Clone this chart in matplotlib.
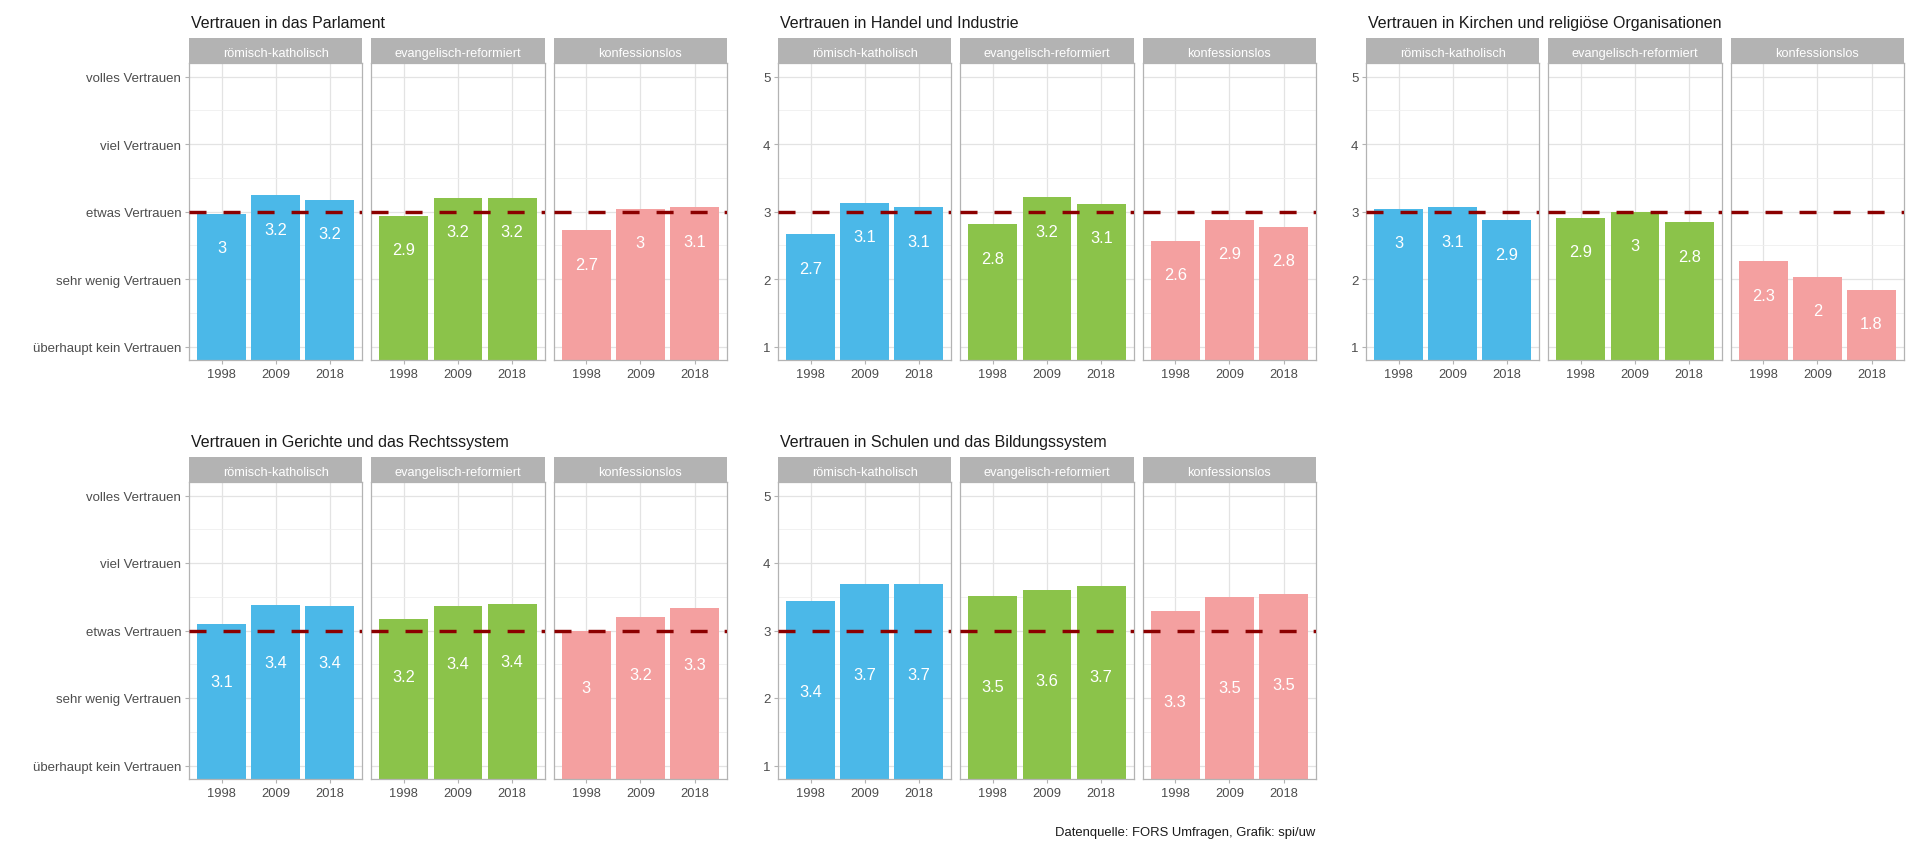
import matplotlib
matplotlib.use("Agg")
import matplotlib.pyplot as plt

plt.rcParams['font.family'] = ['Liberation Sans', 'DejaVu Sans']

# ---------------- data ----------------
years = ["1998", "2009", "2018"]
groups = ["römisch-katholisch", "evangelisch-reformiert", "konfessionslos"]
titles = [
    "Vertrauen in das Parlament",
    "Vertrauen in Handel und Industrie",
    "Vertrauen in Kirchen und religiöse Organisationen",
    "Vertrauen in Gerichte und das Rechtssystem",
    "Vertrauen in Schulen und das Bildungssystem",
]
# values per group: [römisch-katholisch, evangelisch-reformiert, konfessionslos] x years
parlament = [[2.96, 3.24, 3.17], [2.93, 3.20, 3.20], [2.72, 3.04, 3.06]]
handel = [[2.66, 3.13, 3.06], [2.81, 3.21, 3.11], [2.56, 2.88, 2.77]]
kirchen = [[3.04, 3.06, 2.87], [2.91, 2.99, 2.84], [2.26, 2.03, 1.84]]
gerichte = [[3.10, 3.38, 3.37], [3.17, 3.36, 3.39], [3.00, 3.20, 3.34]]
schulen = [[3.44, 3.69, 3.69], [3.51, 3.60, 3.66], [3.29, 3.50, 3.54]]
datasets = [parlament, handel, kirchen, gerichte, schulen]

scale_ticks = [1, 2, 3, 4, 5]
scale_labels = ["überhaupt kein Vertrauen", "sehr wenig Vertrauen", "etwas Vertrauen",
                "viel Vertrauen", "volles Vertrauen"]
reference_value = 3
caption = "Datenquelle: FORS Umfragen, Grafik: spi/uw"

# ---------------- style / layout ----------------
colors = ["#4BB8E8", "#8BC34A", "#F4A0A0"]
label_offsets = [0.5, 0.5, 0.5, 0.85, 1.34]
use_text_labels = [True, False, False, True, False]
group_left = [189, 778, 1366, 189, 778]
strip_top = [39, 39, 39, 458, 458]
title_base = [28, 28, 28, 447, 447]
GROUP_W = 538
GAP = 9
STRIP_H = 25
PANEL_H = 297

W, H = 1920, 854
fig = plt.figure(figsize=(W / 100, H / 100), dpi=100)


def add_ax(x0, y0, x1, y1):
    return fig.add_axes([x0 / W, 1 - y1 / H, (x1 - x0) / W, (y1 - y0) / H])


def fmt(v):
    return f"{round(v, 1):g}"


grey70 = "#B3B3B3"
grid_c = "#E3E3E3"
tick_c = "#4D4D4D"

for k, data in enumerate(datasets):
    gl = group_left[k]
    st = strip_top[k]
    pt = st + STRIP_H
    pb = pt + PANEL_H
    fw = (GROUP_W - 2 * GAP) / 3
    fig.text((gl + 2) / W, 1 - title_base[k] / H, titles[k], ha="left", va="baseline",
             fontsize=11.5, color="#1A1A1A")
    for g in range(3):
        x0 = gl + g * (fw + GAP)
        x1 = x0 + fw
        # strip
        sax = add_ax(x0, st, x1, pt)
        sax.set_facecolor(grey70)
        sax.set_xticks([]); sax.set_yticks([])
        for s in sax.spines.values():
            s.set_visible(False)
        sax.text(0.5, 0.47, groups[g], transform=sax.transAxes, ha="center",
                 va="center_baseline", color="white", fontsize=9.2)
        # panel
        ax = add_ax(x0, pt, x1, pb)
        vals = data[g]
        xs = list(range(len(years)))
        ax.bar(xs, vals, width=0.9, color=colors[g], zorder=2)
        ax.axhline(reference_value, color="#8B0000", lw=2.45, dashes=(5, 5), zorder=3)
        for xi, v in zip(xs, vals):
            ax.text(xi, v - label_offsets[k], fmt(v), ha="center", va="center",
                    color="white", fontsize=11.8, zorder=4)
        ax.set_xlim(-0.6, 2.6)
        ax.set_ylim(0.8, 5.2)
        ax.set_xticks(xs)
        ax.set_xticklabels(years)
        ax.set_yticks(scale_ticks)
        ax.set_yticks([1.5, 2.5, 3.5, 4.5], minor=True)
        if use_text_labels[k]:
            ax.set_yticklabels(scale_labels)
        else:
            ax.set_yticklabels([str(t) for t in scale_ticks])
        ax.grid(True, which="major", color=grid_c, lw=0.9, zorder=0)
        ax.grid(True, which="minor", axis="y", color="#EFEFEF", lw=0.6, zorder=0)
        ax.set_axisbelow(True)
        for s in ax.spines.values():
            s.set_color(grey70)
            s.set_linewidth(0.9)
        ax.tick_params(axis="both", which="major", length=3, width=0.8, color=grey70,
                       labelcolor=tick_c, pad=2.5)
        ax.tick_params(axis="x", labelsize=9.3)
        ax.tick_params(axis="y", labelsize=9.5)
        ax.tick_params(axis="both", which="minor", length=0)
        if g > 0:
            ax.tick_params(axis="y", left=False, labelleft=False)

fig.text(1315 / W, 1 - 836 / H, caption, ha="right", va="baseline", fontsize=9.4,
         color="#1A1A1A")

fig.savefig("out.png", dpi=100, facecolor="white")
